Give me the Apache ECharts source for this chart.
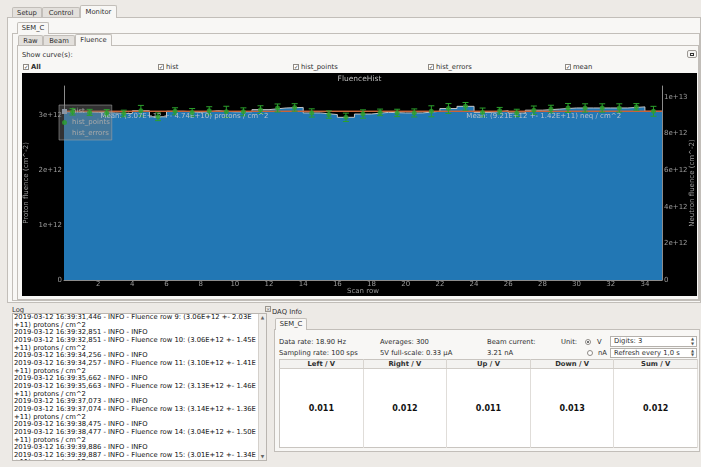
<!DOCTYPE html>
<html>
<head>
<meta charset="utf-8">
<script src="https://cdn.jsdelivr.net/npm/echarts@6/dist/echarts.min.js"></script>
<style>
*{box-sizing:border-box}
body{margin:0;width:701px;height:467px;overflow:hidden;background:#edeae6;font-family:"DejaVu Sans",sans-serif;font-size:6.8px;color:#2f2f2f;position:relative}
.t{position:absolute;white-space:nowrap;height:10px;line-height:10px}
.b{font-weight:bold}
.tab{position:absolute;border:1px solid #c2beb9;border-bottom:none;background:#e3e0dc;text-align:center;line-height:10px;border-radius:2px 2px 0 0;white-space:nowrap}
.tab.on{background:#f8f7f5}
.frame{position:absolute;border:1px solid #c2beb9;background:#f8f7f5}
.cb{position:absolute;width:6px;height:6px;border:1px solid #8e8a85;background:#fff;font-size:5.5px;line-height:5px;text-align:center;color:#333}
.radio{position:absolute;width:6px;height:6px;border:1px solid #8e8a85;border-radius:50%;background:#fff}
.radio.on::after{content:"";position:absolute;left:1px;top:1px;width:2px;height:2px;border-radius:50%;background:#444}
.spin{position:absolute;border:1px solid #b5b1ac;background:#fff;padding-left:3px;line-height:9px;white-space:nowrap}
.spin .ar{position:absolute;right:2px;top:0;font-size:4px;line-height:4.5px;color:#555;text-align:center}
#plot{position:absolute;left:22px;top:73px;width:675px;height:223px}
#log{position:absolute;left:12px;top:313px;width:255px;height:148px;background:#fff;border:1px solid #b9b5b0;overflow:hidden}
#log pre{margin:0;padding:0 0 0 1px;font-family:"DejaVu Sans",sans-serif;font-size:6.8px;line-height:7.65px;color:#111}
#sb{position:absolute;right:0;top:0;width:8px;height:100%;background:#efedea;border-left:1px solid #d4d0cb}
#sb div{position:absolute;left:0;width:7px;text-align:center;font-size:4.5px;color:#666}
table{position:absolute;left:279px;top:359px;width:419px;height:89px;border-collapse:collapse;background:#fff;border:1px solid #c9c5c0;table-layout:fixed}
th{height:9px;font-size:6.8px;font-weight:bold;background:#f3f2f0;border-right:1px solid #d8d4cf;border-bottom:1px solid #d0ccc7;padding:0;line-height:8px}
td{font-size:8px;font-weight:bold;text-align:center;border-right:1px solid #e0ddd9;color:#111;padding:0}
</style>
</head>
<body>

<!-- main tab widget -->
<div class="frame" style="left:7px;top:17px;width:694px;height:286px"></div>
<div class="tab" style="left:12px;top:7px;width:30px;height:10px">Setup</div>
<div class="tab" style="left:42px;top:7px;width:38px;height:10px">Control</div>
<div class="tab on" style="left:80px;top:5px;width:37px;height:13px;line-height:13px">Monitor</div>

<!-- SEM_C tab widget -->
<div class="frame" style="left:12px;top:33px;width:688px;height:268px"></div>
<div class="tab on" style="left:17px;top:22px;width:32px;height:12px;line-height:11px">SEM_C</div>

<!-- Raw / Beam / Fluence -->
<div class="frame" style="left:17px;top:45px;width:682px;height:255px"></div>
<div class="tab" style="left:18px;top:35px;width:25px;height:10px">Raw</div>
<div class="tab" style="left:43px;top:35px;width:32px;height:10px">Beam</div>
<div class="tab on" style="left:75px;top:34px;width:37px;height:12px;line-height:11px">Fluence</div>

<div class="t" style="left:22px;top:50px">Show curve(s):</div>
<div style="position:absolute;left:687px;top:50px;width:10px;height:8px;border:1px solid #9d9994;border-radius:2px;background:#f4f3f1">
  <div style="position:absolute;left:2px;top:1.5px;width:4px;height:3px;border:1px solid #333"></div>
</div>

<div class="cb" style="left:23px;top:64px">✓</div><div class="t b" style="left:31px;top:62px">All</div>
<div class="cb" style="left:158px;top:64px">✓</div><div class="t" style="left:166px;top:62px">hist</div>
<div class="cb" style="left:293px;top:64px">✓</div><div class="t" style="left:301px;top:62px">hist_points</div>
<div class="cb" style="left:428px;top:64px">✓</div><div class="t" style="left:436px;top:62px">hist_errors</div>
<div class="cb" style="left:565px;top:64px">✓</div><div class="t" style="left:573px;top:62px">mean</div>

<div id="plot"></div>

<!-- Log dock -->
<div class="t" style="left:12px;top:304.5px">Log</div>
<div style="position:absolute;left:265px;top:306px;width:6px;height:6px;border:1px solid #9a968f;font-size:5px;line-height:4px;text-align:center;color:#666">×</div>
<div id="log"><pre id="logtext"></pre>
  <div id="sb"><div style="top:1px">▲</div><div style="bottom:1px">▼</div></div>
</div>

<!-- DAQ Info dock -->
<div class="t" style="left:272px;top:306.5px">DAQ Info</div>
<div class="frame" style="left:274px;top:329px;width:426px;height:123px"></div>
<div class="tab on" style="left:275px;top:318px;width:32px;height:12px;line-height:11px">SEM_C</div>

<div class="t" style="left:279px;top:336.7px">Data rate: 18.90 Hz</div>
<div class="t" style="left:380px;top:336.7px">Averages: 300</div>
<div class="t" style="left:487px;top:336.7px">Beam current:</div>
<div class="t" style="left:561px;top:336.7px">Unit:</div>
<div class="radio on" style="left:585px;top:338.7px"></div><div class="t" style="left:597px;top:336.7px">V</div>
<div class="spin" style="left:610px;top:336px;width:87px;height:11px">Digits: 3<div class="ar">▲<br>▼</div></div>

<div class="t" style="left:279px;top:347.7px">Sampling rate: 100 sps</div>
<div class="t" style="left:380px;top:347.7px">5V full-scale: 0.33 µA</div>
<div class="t" style="left:487px;top:347.7px">3.21 nA</div>
<div class="radio" style="left:587px;top:349.7px"></div><div class="t" style="left:598px;top:347.7px">nA</div>
<div class="spin" style="left:610px;top:347.5px;width:87px;height:10.5px">Refresh every 1,0 s<div class="ar">▲<br>▼</div></div>

<table>
  <tr><th>Left / V</th><th>Right / V</th><th>Up / V</th><th>Down / V</th><th>Sum / V</th></tr>
  <tr><td>0.011</td><td>0.012</td><td>0.011</td><td>0.013</td><td>0.012</td></tr>
</table>

<script>
// Fluence per scan row (protons / cm^2) and the error-bar heights
const scanRows = [0, 1, 2, 3, 4, 5, 6, 7, 8, 9, 10, 11, 12, 13, 14, 15, 16, 17,
                  18, 19, 20, 21, 22, 23, 24, 25, 26, 27, 28, 29, 30, 31, 32, 33, 34];
const protonFluence = [
  3.06e12, 3.05e12, 3.04e12, 3.03e12, 3.08e12, 2.97e12, 3.07e12, 3.05e12, 3.08e12,
  3.06e12, 3.06e12, 3.10e12, 3.13e12, 3.14e12, 3.04e12, 3.01e12, 2.96e12, 3.02e12,
  3.05e12, 3.04e12, 3.04e12, 3.07e12, 3.12e12, 3.16e12, 3.05e12, 3.08e12, 3.04e12,
  3.09e12, 3.11e12, 3.13e12, 3.13e12, 3.13e12, 3.13e12, 3.15e12, 3.07e12
];
const fluenceErrors = [
  1.16e11, 1.10e11, 1.20e11, 1.20e11, 1.94e11, 1.40e11, 1.28e11, 1.40e11, 1.46e11,
  2.03e11, 1.45e11, 1.41e11, 1.46e11, 1.36e11, 1.50e11, 1.34e11, 1.52e11, 1.52e11,
  1.20e11, 1.34e11, 1.46e11, 2.00e11, 1.80e11, 1.40e11, 1.58e11, 1.20e11, 1.34e11,
  1.52e11, 1.40e11, 1.64e11, 1.52e11, 1.52e11, 1.52e11, 1.20e11, 1.80e11
];
const meanProton = 3.07e12, meanProtonErr = 4.74e10;
const meanNeutron = 9.21e12, meanNeutronErr = 1.42e11;
const rowRange = [0, 35];
const protonAxisMax = 3.53e12;
const neutronAxisMax = protonAxisMax * meanNeutron / meanProton;

const logLines = [
  '2019-03-12 16:39:31,446 - INFO - Fluence row 9: (3.06E+12 +- 2.03E',
  '+11) protons / cm^2',
  '2019-03-12 16:39:32,851 - INFO - INFO',
  '2019-03-12 16:39:32,851 - INFO - Fluence row 10: (3.06E+12 +- 1.45E',
  '+11) protons / cm^2',
  '2019-03-12 16:39:34,256 - INFO - INFO',
  '2019-03-12 16:39:34,257 - INFO - Fluence row 11: (3.10E+12 +- 1.41E',
  '+11) protons / cm^2',
  '2019-03-12 16:39:35,662 - INFO - INFO',
  '2019-03-12 16:39:35,663 - INFO - Fluence row 12: (3.13E+12 +- 1.46E',
  '+11) protons / cm^2',
  '2019-03-12 16:39:37,073 - INFO - INFO',
  '2019-03-12 16:39:37,074 - INFO - Fluence row 13: (3.14E+12 +- 1.36E',
  '+11) protons / cm^2',
  '2019-03-12 16:39:38,475 - INFO - INFO',
  '2019-03-12 16:39:38,477 - INFO - Fluence row 14: (3.04E+12 +- 1.50E',
  '+11) protons / cm^2',
  '2019-03-12 16:39:39,886 - INFO - INFO',
  '2019-03-12 16:39:39,887 - INFO - Fluence row 15: (3.01E+12 +- 1.34E',
  '+11) protons / cm^2'
];
document.getElementById('logtext').textContent = logLines.join('\n');

const sci = v => v.toExponential(2).toUpperCase();
const tick = v => v === 0 ? '0' : v.toExponential();

// step outline: left bin edges plus the closing right edge
const histData = scanRows.map((r, i) => [r, protonFluence[i]]);
histData.push([rowRange[1], protonFluence[protonFluence.length - 1]]);
const pointData = scanRows.map((r, i) => [r + 0.5, protonFluence[i]]);
const errorData = scanRows.map((r, i) => [r + 0.5, protonFluence[i], fluenceErrors[i]]);

const axisText = { color: '#9c9c9c', fontSize: 7, fontFamily: 'DejaVu Sans' };
const green = '#2ca02c';

const chart = echarts.init(document.getElementById('plot'));
chart.setOption({
  animation: false,
  backgroundColor: '#000',
  textStyle: { fontFamily: 'DejaVu Sans' },
  title: {
    text: 'FluenceHist', left: 'center', top: 2, padding: 0,
    textStyle: { color: '#bdbdbd', fontSize: 7.5, fontWeight: 'normal' }
  },
  legend: {
    orient: 'vertical', left: 37, top: 32, padding: [3, 2, 3, 3], itemGap: 4,
    itemWidth: 5, itemHeight: 5,
    backgroundColor: 'rgba(120,120,120,0.42)', borderColor: 'rgba(165,165,165,0.55)', borderWidth: 1,
    textStyle: { color: '#a9a9a9', fontSize: 7 },
    data: [
      { name: 'hist', icon: 'rect', itemStyle: { color: '#8d96a3' } },
      { name: 'hist_points', icon: 'circle' },
      { name: 'hist_errors', icon: 'none' }
    ]
  },
  grid: { left: 42, right: 35, top: 13, bottom: 16, outerBoundsMode: 'none', containLabel: false },
  xAxis: {
    type: 'value', min: rowRange[0], max: rowRange[1], interval: 2,
    name: 'Scan row', nameLocation: 'middle', nameGap: 8, nameMoveOverlap: false, nameTextStyle: axisText,
    axisLine: { lineStyle: { color: '#8c8c8c' } }, axisTick: { show: false }, splitLine: { show: false },
    axisLabel: Object.assign({ margin: 1, showMinLabel: false, showMaxLabel: false }, axisText)
  },
  yAxis: [
    {
      type: 'value', min: 0, max: protonAxisMax, interval: 1e12, position: 'left',
      name: 'Proton fluence (cm^-2)', nameLocation: 'middle', nameRotate: 90, nameGap: 34,
      nameMoveOverlap: false, nameTextStyle: axisText,
      axisLine: { show: true, lineStyle: { color: '#8c8c8c' } }, axisTick: { show: false }, splitLine: { show: false },
      axisLabel: Object.assign({ margin: 2, showMaxLabel: false, formatter: tick }, axisText)
    },
    {
      type: 'value', min: 0, max: neutronAxisMax, interval: 2e12, position: 'right',
      name: 'Neutron fluence (cm^-2)', nameLocation: 'middle', nameRotate: 90, nameGap: 27,
      nameMoveOverlap: false, nameTextStyle: axisText,
      axisLine: { show: true, lineStyle: { color: '#8c8c8c' } }, axisTick: { show: false }, splitLine: { show: false },
      axisLabel: Object.assign({ margin: 2, showMaxLabel: false, formatter: tick }, axisText)
    }
  ],
  series: [
    {
      name: 'hist', type: 'line', step: 'end', data: histData, symbol: 'none', z: 2,
      lineStyle: { color: '#c4c4c4', width: 1 },
      itemStyle: { color: '#2277b4' },
      areaStyle: { color: '#2277b4', opacity: 1 }
    },
    {
      name: 'mean', type: 'line', data: [[rowRange[0], meanProton], [rowRange[1], meanProton]],
      symbol: 'none', z: 3, silent: true,
      lineStyle: { color: '#c8643a', width: 1.2 },
      markPoint: {
        symbol: 'rect', symbolSize: 1, silent: true, itemStyle: { color: 'rgba(0,0,0,0)' },
        data: [{
          coord: [2.1, meanProton],
          label: {
            show: true, position: 'right', distance: 0, offset: [0, 5], color: '#b8c0cc', fontSize: 7,
            formatter: 'Mean: (' + sci(meanProton) + ' +- ' + sci(meanProtonErr) + ') protons / cm^2'
          }
        }]
      }
    },
    {
      name: 'mean_neq', type: 'line', yAxisIndex: 1,
      data: [[rowRange[0], meanNeutron], [rowRange[1], meanNeutron]],
      symbol: 'none', z: 3, silent: true,
      lineStyle: { color: '#c8643a', width: 1.2 },
      markPoint: {
        symbol: 'rect', symbolSize: 1, silent: true, itemStyle: { color: 'rgba(0,0,0,0)' },
        data: [{
          coord: [23.52, meanNeutron],
          label: {
            show: true, position: 'right', distance: 0, offset: [0, 5], color: '#b8c0cc', fontSize: 7,
            formatter: 'Mean: (' + sci(meanNeutron) + ' +- ' + sci(meanNeutronErr) + ') neq / cm^2'
          }
        }]
      }
    },
    {
      name: 'hist_errors', type: 'custom', data: errorData, z: 4, silent: true,
      itemStyle: { color: green },
      renderItem: function (params, api) {
        const x = api.value(0), y = api.value(1), e = api.value(2) / 2;
        const top = api.coord([x, y + e]);
        const bot = api.coord([x, y - e]);
        const cap = 3;
        const style = { stroke: green, lineWidth: 1 };
        return {
          type: 'group',
          children: [
            { type: 'line', shape: { x1: top[0], y1: top[1], x2: bot[0], y2: bot[1] }, style: style },
            { type: 'line', shape: { x1: top[0] - cap, y1: top[1], x2: top[0] + cap, y2: top[1] }, style: style },
            { type: 'line', shape: { x1: bot[0] - cap, y1: bot[1], x2: bot[0] + cap, y2: bot[1] }, style: style }
          ]
        };
      }
    },
    {
      name: 'hist_points', type: 'scatter', data: pointData, symbolSize: 5, z: 5, silent: true,
      itemStyle: { color: green }
    }
  ]
});
</script>
</body>
</html>
